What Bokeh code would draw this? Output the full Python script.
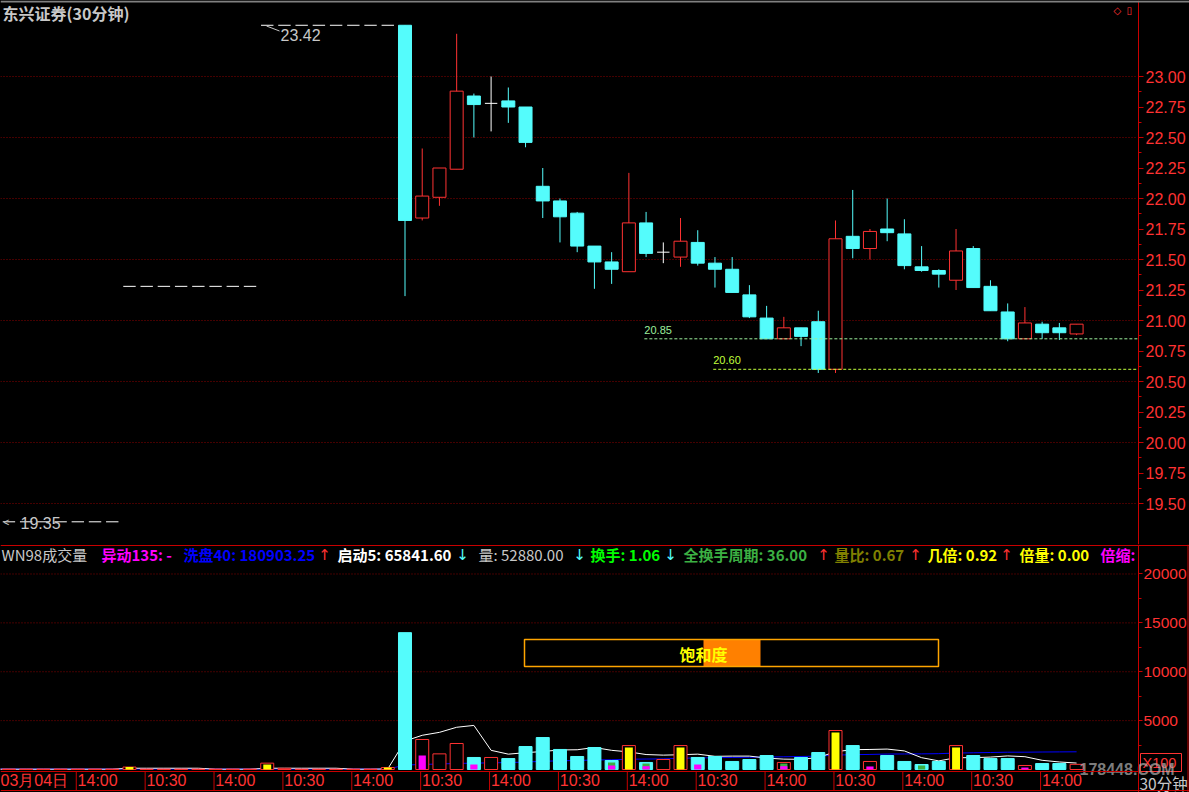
from bokeh.plotting import figure
from bokeh.models import (Range1d, FixedTicker, NumeralTickFormatter, Span, LinearAxis,
                          ColumnDataSource, CustomJSTickFormatter)
from bokeh.layouts import column
from bokeh.embed import file_html
from bokeh.resources import INLINE
from bokeh.core.properties import value

# ---------------------------------------------------------------- data
first_day_label = "03月04日"
bar_times = ["10:00", "10:30", "11:00", "11:30", "13:30", "14:00", "14:30", "15:00"]

opens = [
    19.35, 19.35, 19.35, 19.35, 19.35, 19.35, 19.35, 19.35,
    21.28, 21.28, 21.28, 21.28, 21.28, 21.28, 21.28, 21.28,
    23.42, 23.42, 23.42, 23.42, 23.42, 23.42, 23.42, 23.42,
    23.42, 21.84, 22.01, 22.24, 22.84, 22.78, 22.80, 22.75,
    22.10, 21.98, 21.88, 21.61, 21.48, 21.40, 21.80, 21.56,
    21.52, 21.64, 21.47, 21.42, 21.21, 21.02, 20.85, 20.94,
    20.99, 20.60, 21.69, 21.59, 21.75, 21.71, 21.44, 21.41,
    21.33, 21.59, 21.28, 21.07, 20.85, 20.97, 20.94, 20.89,
]
highs = [
    19.35, 19.35, 19.35, 19.35, 19.35, 19.35, 19.35, 19.35,
    21.28, 21.28, 21.28, 21.28, 21.28, 21.28, 21.28, 21.28,
    23.42, 23.42, 23.42, 23.42, 23.42, 23.42, 23.42, 23.42,
    23.42, 22.41, 22.25, 23.35, 22.86, 23.00, 22.91, 22.75,
    22.25, 22.00, 21.89, 21.61, 21.56, 22.21, 21.89, 21.64,
    21.84, 21.74, 21.52, 21.52, 21.29, 21.12, 21.03, 20.94,
    21.08, 21.82, 22.07, 21.75, 22.00, 21.83, 21.61, 21.42,
    21.75, 21.61, 21.33, 21.14, 21.11, 20.99, 20.98, 20.97,
]
lows = [
    19.35, 19.35, 19.35, 19.35, 19.35, 19.35, 19.35, 19.35,
    21.28, 21.28, 21.28, 21.28, 21.28, 21.28, 21.28, 21.28,
    23.42, 23.42, 23.42, 23.42, 23.42, 23.42, 23.42, 23.42,
    21.20, 21.82, 21.94, 22.24, 22.50, 22.55, 22.62, 22.42,
    21.84, 21.64, 21.56, 21.26, 21.30, 21.40, 21.52, 21.47,
    21.44, 21.45, 21.27, 21.23, 21.02, 20.85, 20.85, 20.79,
    20.57, 20.57, 21.51, 21.50, 21.65, 21.42, 21.40, 21.27,
    21.25, 21.27, 21.08, 20.83, 20.85, 20.85, 20.84, 20.88,
]
closes = [
    19.35, 19.35, 19.35, 19.35, 19.35, 19.35, 19.35, 19.35,
    21.28, 21.28, 21.28, 21.28, 21.28, 21.28, 21.28, 21.28,
    23.42, 23.42, 23.42, 23.42, 23.42, 23.42, 23.42, 23.42,
    21.82, 22.02, 22.25, 22.88, 22.77, 22.78, 22.75, 22.46,
    21.98, 21.85, 21.61, 21.48, 21.42, 21.80, 21.55, 21.56,
    21.65, 21.47, 21.42, 21.23, 21.03, 20.85, 20.94, 20.87,
    20.60, 21.67, 21.59, 21.73, 21.72, 21.45, 21.41, 21.38,
    21.57, 21.27, 21.08, 20.85, 20.98, 20.90, 20.90, 20.97,
]

# volume (x100 shares)
volumes = [
    40, 40, 40, 40, 40, 40, 40, 40,
    250, 40, 40, 40, 40, 40, 40, 40,
    650, 120, 40, 40, 40, 40, 40, 200,
    14000, 3070, 1600, 2660, 1230, 1230, 1120, 2350,
    3270, 2050, 1330, 2250, 920, 2450, 720, 1020,
    2450, 1230, 1330, 820, 1020, 1430, 720, 1230,
    1740, 3990, 2450, 820, 1430, 820, 510, 820,
    2450, 1430, 1120, 1120, 410, 610, 610, 529,
]
# c = cyan solid, r = red hollow, y = red frame with yellow core (double volume)
vol_kind = [
    "r", "r", "r", "r", "r", "r", "r", "r",
    "y", "r", "r", "r", "r", "r", "r", "r",
    "y", "r", "r", "r", "r", "r", "r", "y",
    "c", "r", "r", "r", "c", "r", "c", "c",
    "c", "c", "c", "c", "c", "y", "c", "r",
    "y", "c", "c", "c", "c", "c", "r", "c",
    "c", "y", "c", "r", "c", "c", "c", "c",
    "y", "c", "c", "c", "r", "c", "c", "r",
]
yellow_core = [
    0, 0, 0, 0, 0, 0, 0, 0,
    250, 0, 0, 0, 0, 0, 0, 0,
    510, 0, 0, 0, 0, 0, 0, 200,
    0, 0, 0, 0, 0, 0, 0, 0,
    0, 0, 0, 0, 0, 2250, 0, 0,
    2250, 0, 0, 0, 0, 0, 0, 0,
    0, 3780, 0, 0, 0, 0, 0, 0,
    2250, 0, 0, 0, 0, 0, 0, 0,
]
green_core = [
    0, 0, 0, 0, 0, 0, 0, 0,
    0, 0, 0, 0, 0, 0, 0, 0,
    0, 0, 0, 0, 0, 0, 0, 0,
    0, 0, 0, 0, 0, 0, 0, 0,
    0, 0, 0, 0, 720, 0, 610, 0,
    0, 0, 0, 0, 0, 0, 610, 0,
    0, 0, 0, 0, 0, 0, 410, 0,
    0, 0, 0, 0, 0, 0, 0, 0,
]
magenta_core = [
    0, 0, 0, 0, 0, 0, 0, 0,
    0, 0, 0, 0, 0, 0, 0, 0,
    0, 0, 0, 0, 0, 0, 0, 0,
    0, 1430, 0, 0, 510, 0, 0, 0,
    0, 0, 0, 0, 410, 0, 340, 0,
    0, 510, 0, 0, 0, 0, 340, 0,
    0, 0, 0, 310, 0, 0, 0, 0,
    0, 0, 0, 0, 200, 0, 0, 0,
]
ma_white = [
    30, 30, 30, 30, 30, 30, 30, 30,
    130, 130, 130, 130, 130, 30, 30, 30,
    130, 130, 130, 130, 130, 30, 30, 60,
    2910, 3500, 3800, 4320, 4510, 1960, 1570, 1720,
    1840, 2000, 2020, 2250, 1960, 1800, 1530, 1470,
    1510, 1570, 1350, 1370, 1370, 1170, 1060, 1040,
    1230, 1820, 2030, 2050, 2090, 1900, 1210, 880,
    1210, 1210, 1270, 1390, 1310, 940, 770, 660,
]
ma_blue = [
    50, 50, 50, 50, 50, 50, 50, 50,
    50, 50, 50, 50, 50, 50, 50, 50,
    50, 50, 50, 50, 50, 50, 50, 50,
    450, 520, 560, 620, 650, 680, 705, 760,
    840, 890, 920, 975, 995, 1050, 1070, 1090,
    1150, 1180, 1210, 1230, 1250, 1280, 1300, 1330,
    1370, 1470, 1520, 1540, 1580, 1590, 1600, 1620,
    1680, 1710, 1740, 1770, 1770, 1790, 1800, 1810,
]

price_ticks = [19.50, 19.75, 20.00, 20.25, 20.50, 20.75, 21.00, 21.25,
               21.50, 21.75, 22.00, 22.25, 22.50, 22.75, 23.00]
price_minor = [19.625, 19.875, 20.125, 20.375, 20.625, 20.875, 21.125,
               21.375, 21.625, 21.875, 22.125, 22.375, 22.625, 22.875]
price_grid = [19.5, 20.0, 20.5, 21.0, 21.5, 22.0, 22.5, 23.0]
vol_ticks = [5000, 10000, 15000, 20000]
vol_minor = [2500, 7500, 12500, 17500]

max_price, min_price = 23.42, 19.35
support_levels = [20.85, 20.60]
support_colors = ["#9CF09C", "#C0FF3C"]
support_start_bar = [37.9, 41.9]

header_texts = ["WN98成交量", "异动135: -", "洗盘40: 180903.25", "启动5: 65841.60",
                "量: 52880.00", "换手: 1.06", "全换手周期: 36.00", "量比: 0.67",
                "几倍: 0.92", "倍量: 0.00", "倍缩:"]
header_colors = ["#C8C8C8", "#FF00FF", "#0000FF", "#FFFFFF", "#C8C8C8", "#00FF00",
                 "#3CB043", "#808000", "#FFFF00", "#FFFF00", "#FF00FF"]
header_bold = [False, True, True, True, False, True, True, True, True, True, True]
header_px = [1, 101, 183, 337, 478, 590, 683, 834, 927, 1019, 1100]
arrow_texts = ["↑", "↓", "↓", "↓", "↑", "↑", "↑"]
arrow_colors = ["#FF3232", "#54FCFC", "#54FCFC", "#54FCFC", "#FF3232", "#FF3232", "#FF3232"]
arrow_px = [324, 462, 579, 670, 823, 915, 1006]

# ---------------------------------------------------------------- geometry helpers
BAR_PX = 17.22      # reference pixels per bar
BAR0_PX = -8.78     # reference x of bar 0 centre


def gx(px):
    return (px - BAR0_PX) / BAR_PX


def pr(py):
    return 23.623 - py / 122.0


def vo(py):
    return (769.0 - py) * 102.3


CYAN = "#54FCFC"
RED = "#FF3232"
AXRED = "#C80000"
GRID = "#8A0000"
CJK = "Noto Sans CJK SC"
LAT = "Liberation Sans"
AXIS_X = gx(1138)
W = 1189

n = len(opens)
idx = list(range(n))
x_range = Range1d(gx(0), gx(W))

# ================================================================ price panel
top = figure(frame_width=W, frame_height=544, x_range=x_range,
             y_range=Range1d(pr(544), pr(0)), x_axis_type=None, y_axis_type=None,
             output_backend="svg", toolbar_location=None,
             background_fill_color="black", border_fill_color="black",
             min_border=0, outline_line_color=None)

top.segment(x0=[gx(0)] * len(price_grid), x1=[gx(1135)] * len(price_grid),
            y0=price_grid, y1=price_grid, line_color=GRID, line_dash="1 2", line_width=1)

ya = LinearAxis(fixed_location=AXIS_X, bounds=(pr(544), pr(0)),
                ticker=FixedTicker(ticks=price_ticks, minor_ticks=price_minor),
                formatter=NumeralTickFormatter(format="0.00"))
ya.axis_line_color = AXRED
ya.major_tick_line_color = AXRED
ya.minor_tick_line_color = AXRED
ya.major_tick_in = 0
ya.major_tick_out = 5
ya.minor_tick_in = 0
ya.minor_tick_out = 3
ya.major_label_standoff = 2
ya.major_label_text_color = RED
ya.major_label_text_font = LAT
ya.major_label_text_font_size = "16px"
top.add_layout(ya, "right")

up = [i for i in idx if closes[i] > opens[i]]
dn = [i for i in idx if closes[i] < opens[i]]
fl = [i for i in idx if closes[i] == opens[i]]
BW = 0.755

wick_col = [RED if closes[i] > opens[i] else (CYAN if closes[i] < opens[i] else "white") for i in idx]
top.segment(x0=idx, x1=idx, y0=lows, y1=highs, line_color=wick_col, line_width=1)
top.vbar(x=up, width=BW, bottom=[opens[i] for i in up], top=[closes[i] for i in up],
         fill_color="black", line_color=RED, line_width=1)
top.vbar(x=dn, width=BW, bottom=[closes[i] for i in dn], top=[opens[i] for i in dn],
         fill_color=CYAN, line_color=CYAN, line_width=1)
top.segment(x0=[i - 0.36 for i in fl], x1=[i + 0.36 for i in fl],
            y0=[opens[i] for i in fl], y1=[closes[i] for i in fl],
            line_color="white", line_width=1)

# support levels
for lev, col, start in zip(support_levels, support_colors, support_start_bar):
    top.segment(x0=[start], x1=[AXIS_X], y0=[lev], y1=[lev],
                line_color=col, line_dash="3 2", line_width=1)
    top.text(x=[start], y=[lev + 0.075], text=[f"{lev:.2f}"], text_color=col,
             text_font=value(LAT), text_font_size="11px", text_baseline="middle")

# max / min markers
top.text(x=[gx(280)], y=[pr(34)], text=[f"{max_price:.2f}"], text_color="#C8C8C8",
         text_font=value(LAT), text_font_size="16px", text_baseline="middle")
top.segment(x0=[gx(266)], x1=[gx(279)], y0=[pr(25.5)], y1=[pr(30.5)],
            line_color="#C8C8C8", line_width=1)
top.text(x=[gx(20)], y=[pr(522)], text=[f"{min_price:.2f}"], text_color="#C8C8C8",
         text_font=value(LAT), text_font_size="16px", text_baseline="middle")
top.text(x=[gx(3)], y=[pr(522)], text=["<"], text_color="#C8C8C8",
         text_font=value(LAT), text_font_size="10px", text_baseline="middle")

# title & corner icons
top.text(x=[gx(2)], y=[pr(12)], text=["东兴证券(30分钟)"], text_color="#C8C8C8",
         text_font=value(CJK), text_font_size="16px", text_font_style="bold",
         text_baseline="middle")
top.text(x=[gx(1113), gx(1126)], y=[pr(10), pr(10)], text=["◇", "▯"], text_color=RED,
         text_font=value("DejaVu Sans"), text_font_size="10px", text_baseline="middle")
top.add_layout(Span(location=pr(1), dimension="width", line_color="#808080", line_width=2))

# ================================================================ volume panel
bot = figure(frame_width=W, frame_height=248, x_range=x_range,
             y_range=Range1d(vo(792), vo(544)), x_axis_type=None, y_axis_type=None,
             output_backend="svg", toolbar_location=None,
             background_fill_color="black", border_fill_color="black",
             min_border=0, outline_line_color=None)

bot.segment(x0=[gx(0)] * len(vol_ticks), x1=[gx(1135)] * len(vol_ticks),
            y0=vol_ticks, y1=vol_ticks, line_color=GRID, line_dash="1 2", line_width=1)

va = LinearAxis(fixed_location=AXIS_X, bounds=(vo(792), vo(544)),
                ticker=FixedTicker(ticks=vol_ticks, minor_ticks=vol_minor),
                formatter=NumeralTickFormatter(format="0"))
va.axis_line_color = AXRED
va.major_tick_line_color = AXRED
va.minor_tick_line_color = AXRED
va.major_tick_in = 0
va.major_tick_out = 4
va.minor_tick_in = 0
va.minor_tick_out = 3
va.major_label_standoff = 1
va.major_label_text_color = RED
va.major_label_text_font = LAT
va.major_label_text_font_size = "15.5px"
bot.add_layout(va, "right")

# time axis: labels sit right of the separators
tick_bars = list(range(1, n, 4))
tick_texts = [first_day_label] + [bar_times[g % 8] for g in tick_bars[1:]]
label_centers = [tick_bars[0] + 1.43] + [g + 1.15 for g in tick_bars[1:]]
separators = [g - 0.09 for g in tick_bars[1:]]
xa = LinearAxis(fixed_location=vo(770.5), bounds=(gx(0), AXIS_X),
                ticker=FixedTicker(ticks=label_centers),
                formatter=CustomJSTickFormatter(
                    args=dict(centers=label_centers, labels=tick_texts),
                    code="""
                    for (let i = 0; i < centers.length; i++) {
                        if (Math.abs(centers[i] - tick) < 1e-6) { return labels[i]; }
                    }
                    return "";
                    """))
xa.axis_line_color = AXRED
xa.major_tick_in = 0
xa.major_tick_out = 0
xa.minor_tick_in = 0
xa.minor_tick_out = 0
xa.minor_tick_line_color = None
xa.major_label_standoff = 1
xa.major_label_text_color = RED
xa.major_label_text_font = LAT
xa.major_label_text_font_size = "16px"
bot.add_layout(xa, "below")
# day / session separators running through the time-label band
bot.segment(x0=separators, x1=separators, y0=[vo(771)] * len(separators),
            y1=[vo(790)] * len(separators), line_color=AXRED, line_width=1)

# moving-average lines (drawn beneath the bars)
bot.line(idx, ma_blue, line_color="#0000FF", line_width=1)
bot.line(idx, ma_white, line_color="white", line_width=1)

cy = [i for i in idx if vol_kind[i] == "c"]
rd = [i for i in idx if vol_kind[i] in ("r", "y")]
yl = [i for i in idx if yellow_core[i] > 0]
gr = [i for i in idx if green_core[i] > 0]
mg = [i for i in idx if magenta_core[i] > 0]

bot.vbar(x=cy, width=BW, bottom=0, top=[volumes[i] for i in cy],
         fill_color=CYAN, line_color=CYAN, line_width=1)
bot.vbar(x=rd, width=BW, bottom=0, top=[volumes[i] for i in rd],
         fill_color="black", line_color=RED, line_width=1)
bot.vbar(x=yl, width=0.46, bottom=0, top=[yellow_core[i] for i in yl],
         fill_color="#FFFF00", line_color=None)
bot.vbar(x=gr, width=0.42, bottom=0, top=[green_core[i] for i in gr],
         fill_color="#3CB043", line_color=None)
bot.vbar(x=mg, width=0.42, bottom=0, top=[magenta_core[i] for i in mg],
         fill_color="#FF00FF", line_color=None)

# panel separator, bottom border, right border
bot.add_layout(Span(location=vo(545), dimension="width", line_color=AXRED, line_width=1))
bot.add_layout(Span(location=vo(790), dimension="width", line_color=AXRED, line_width=1))
bot.segment(x0=[gx(1187.5)], x1=[gx(1187.5)], y0=[vo(792)], y1=[vo(544)],
            line_color=AXRED, line_width=1)

# indicator header row
for bold in (False, True):
    sel = [k for k in range(len(header_texts)) if header_bold[k] == bold]
    hsrc = ColumnDataSource(dict(x=[gx(header_px[k]) for k in sel],
                                 y=[vo(554)] * len(sel),
                                 text=[header_texts[k] for k in sel],
                                 color=[header_colors[k] for k in sel]))
    bot.text(x="x", y="y", text="text", text_color="color", source=hsrc,
             text_font=value(CJK), text_font_size="15px",
             text_font_style="bold" if bold else "normal", text_baseline="middle")
asrc = ColumnDataSource(dict(x=[gx(p) for p in arrow_px], y=[vo(554)] * len(arrow_px),
                             text=arrow_texts, color=arrow_colors))
bot.text(x="x", y="y", text="text", text_color="color", source=asrc,
         text_font=value("DejaVu Sans"), text_font_size="15px",
         text_baseline="middle", text_align="center")

# saturation gauge
bot.quad(left=[gx(703)], right=[gx(760)], bottom=[vo(666)], top=[vo(639)],
         fill_color="#FF8000", line_color=None)
bot.quad(left=[gx(524)], right=[gx(938)], bottom=[vo(666)], top=[vo(639)],
         fill_alpha=0, line_color="#FFA500", line_width=1.5)
bot.text(x=[gx(679)], y=[vo(653)], text=["饱和度"], text_color="#FFFF00",
         text_font=value(CJK), text_font_size="16px", text_font_style="bold",
         text_baseline="middle")

# corner annotations (inside the frame, right of the axis line)
bot.quad(left=[gx(1140)], right=[gx(1181)], bottom=[vo(771)], top=[vo(753)],
         fill_alpha=0, line_color=RED, line_width=1)
bot.text(x=[gx(1142)], y=[vo(762)], text=["X100"], text_color=RED,
         text_font=value(LAT), text_font_size="14.5px", text_baseline="middle")
bot.text(x=[gx(1139)], y=[vo(782)], text=["30分钟"], text_color="#C8C8C8",
         text_font=value(CJK), text_font_size="15.5px", text_baseline="middle")
bot.text(x=[gx(1079)], y=[vo(769)], text=["178448.COM"], text_color="#B4B4B4",
         text_alpha=0.7, text_font=value(LAT),
         text_font_size="16px", text_font_style="bold", text_baseline="middle")

layout = column(top, bot, spacing=0, styles={"background-color": "black"})
open("out.html", "w").write(file_html(layout, INLINE))
